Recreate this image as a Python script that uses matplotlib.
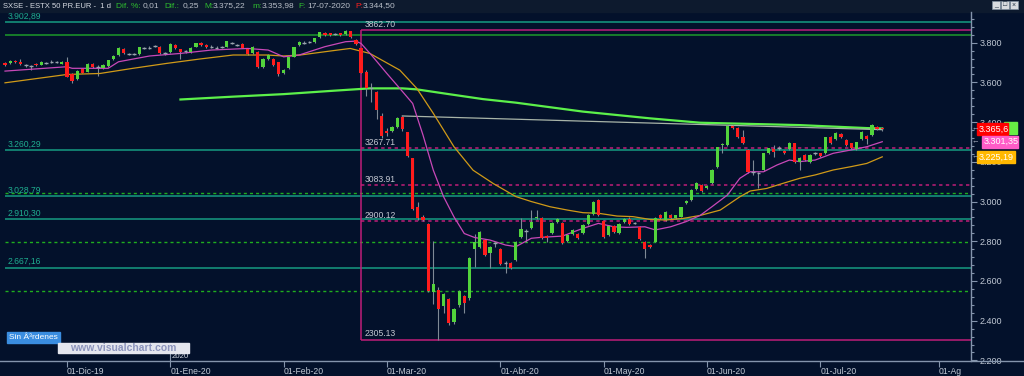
import matplotlib
matplotlib.use("Agg")
import matplotlib.pyplot as plt
from matplotlib.patches import Rectangle
from matplotlib.ticker import MultipleLocator, FuncFormatter
import numpy as np
import pandas as pd

plt.rcParams['font.family'] = ['Liberation Sans', 'DejaVu Sans']

# ---- daily candles ESTX 50, 14-Nov-2019 .. 17-Jul-2020 ----
opens = [
    3699, 3699, 3709, 3702, 3688, 3683, 3695, 3690, 3699, 3703, 3704, 3695,
    3701, 3642, 3615, 3666, 3654, 3692, 3678, 3671, 3684, 3718, 3738, 3770, 3744, 3742, 3743, 3772, 3773, 3782, 3780, 3747,
    3751, 3788, 3766, 3757, 3751, 3780, 3800, 3788, 3779, 3776, 3779, 3780, 3801, 3789, 3793, 3766, 3746, 3754, 3679, 3719, 3717, 3701,
    3649, 3671, 3730, 3786, 3801, 3804, 3803, 3827, 3847, 3847, 3842, 3847, 3843, 3857, 3813, 3771, 3654, 3570, 3553, 3430,
    3357, 3357, 3377, 3427, 3348, 3217, 2974, 2923, 2886, 2545, 2557, 2474, 2507, 2394, 2478, 2524, 2512, 2759, 2772, 2806, 2739, 2786,
    2762, 2690, 2689, 2705, 2820, 2856, 2865, 2915, 2915, 2827, 2840, 2898, 2890, 2803, 2836, 2836, 2840, 2887, 2937, 3008,
    2903, 2831, 2877, 2843, 2895, 2914, 2890, 2873, 2798, 2781, 2798, 2932, 2907, 2930, 2915, 2924, 2991, 3008, 3061, 3083,
    3066, 3095, 3172, 3285, 3285, 3380, 3369, 3327, 3260, 3152, 3145, 3159, 3243, 3263, 3265, 3254, 3263, 3293, 3201, 3234, 3201, 3242,
    3243, 3243, 3323, 3313, 3340, 3310, 3293, 3263, 3313, 3330, 3335, 3374, 3372,
]
highs = [
    3705, 3712, 3712, 3716, 3692, 3690, 3700, 3708, 3704, 3712, 3710, 3709,
    3729, 3646, 3662, 3672, 3696, 3697, 3686, 3692, 3714, 3736, 3778, 3774, 3749, 3748, 3780, 3779, 3782, 3789, 3784, 3752,
    3797, 3792, 3770, 3765, 3777, 3800, 3805, 3791, 3786, 3782, 3785, 3811, 3806, 3794, 3797, 3770, 3784, 3760, 3721, 3743, 3722, 3705,
    3666, 3730, 3780, 3808, 3807, 3810, 3826, 3856, 3852, 3850, 3848, 3851, 3862.7, 3861, 3818, 3775, 3660, 3595, 3558, 3447,
    3372, 3380, 3425, 3430, 3352, 3220, 2999, 2930, 2890, 2800, 2570, 2540, 2515, 2465, 2555, 2530, 2722, 2839, 2852, 2812, 2775, 2795,
    2768, 2700, 2694, 2802, 2915, 2862, 2955, 2957, 2920, 2832, 2895, 2918, 2895, 2836, 2862, 2842, 2886, 2936, 3004, 3012,
    2908, 2882, 2882, 2892, 2917, 2920, 2898, 2878, 2802, 2786, 2920, 2937, 2954, 2935, 2934, 2975, 3008, 3062, 3099, 3088,
    3082, 3163, 3277, 3293, 3384, 3385, 3373, 3360, 3264, 3210, 3150, 3247, 3272, 3285, 3280, 3258, 3300, 3297, 3222, 3238, 3238, 3252,
    3247, 3327, 3328, 3351, 3344, 3314, 3297, 3302, 3356, 3335, 3392, 3380, 3375.22,
]
lows = [
    3685, 3695, 3698, 3688, 3680, 3662, 3683, 3686, 3692, 3698, 3699, 3692,
    3625, 3598, 3610, 3645, 3650, 3672, 3632, 3668, 3680, 3714, 3735, 3742, 3738, 3737, 3740, 3766, 3768, 3776, 3745, 3740,
    3748, 3768, 3716, 3750, 3748, 3777, 3785, 3772, 3774, 3770, 3774, 3777, 3795, 3783, 3771, 3738, 3742, 3672, 3675, 3715, 3685, 3630,
    3640, 3668, 3727, 3782, 3795, 3798, 3800, 3824, 3834, 3834, 3837, 3834, 3840, 3826, 3788, 3645, 3530, 3503, 3418, 3318,
    3330, 3350, 3370, 3355, 3225, 2955, 2907, 2900, 2545, 2485, 2305.13, 2440, 2378, 2385, 2470, 2437, 2505, 2672, 2765, 2725, 2663, 2770,
    2680, 2638, 2660, 2700, 2815, 2798, 2860, 2910, 2810, 2798, 2836, 2894, 2788, 2798, 2832, 2810, 2836, 2882, 2932, 2928,
    2815, 2826, 2843, 2838, 2890, 2880, 2885, 2805, 2714, 2768, 2794, 2910, 2902, 2910, 2910, 2920, 2986, 3004, 3056, 3048,
    3061, 3090, 3168, 3243, 3280, 3364, 3318, 3290, 3145, 3133, 3066, 3154, 3238, 3226, 3258, 3238, 3258, 3196, 3159, 3204, 3196, 3232,
    3226, 3238, 3288, 3308, 3318, 3280, 3263, 3258, 3308, 3290, 3330, 3360, 3353.98,
]
closes = [
    3690, 3709, 3702, 3692, 3687, 3682, 3687, 3705, 3698, 3704, 3703, 3705,
    3629, 3608, 3659, 3649, 3692, 3676, 3679, 3689, 3711, 3733, 3775, 3746, 3743, 3743, 3776, 3771, 3773, 3783, 3749, 3746,
    3793, 3771, 3753, 3758, 3773, 3797, 3788, 3776, 3780, 3775, 3780, 3808, 3800, 3788, 3775, 3743, 3780, 3676, 3717, 3739, 3689, 3642,
    3662, 3726, 3776, 3805, 3800, 3805, 3822, 3853, 3837, 3837, 3843, 3837, 3857, 3830, 3793, 3649, 3570, 3572, 3461, 3330,
    3343, 3373, 3419, 3363, 3229, 2960, 2915, 2907, 2551, 2586, 2457, 2534, 2389, 2460, 2550, 2490, 2718, 2797, 2849, 2730, 2769, 2789,
    2685, 2692, 2664, 2798, 2860, 2853, 2895, 2924, 2815, 2815, 2890, 2913, 2793, 2831, 2857, 2815, 2882, 2932, 2999, 2932,
    2820, 2877, 2848, 2887, 2912, 2887, 2893, 2810, 2759, 2773, 2915, 2915, 2949, 2915, 2930, 2971, 3004, 3058, 3095, 3053,
    3078, 3159, 3273, 3290, 3380, 3369, 3323, 3296, 3150, 3150, 3142, 3243, 3268, 3251, 3268, 3243, 3296, 3201, 3218, 3209, 3234, 3243,
    3231, 3323, 3293, 3347, 3323, 3285, 3268, 3298, 3352, 3313, 3385, 3365, 3365.6,
]

# moving averages (bar index, price)
pink_x = [0, 12, 13, 20, 22, 28, 34, 40, 47, 51, 54, 57, 62, 66, 68, 69, 71, 74, 76.5, 79, 81, 83, 85, 87, 89, 91, 94,
          97, 99, 102, 104, 108, 112, 115, 118, 120.5, 124, 126, 129, 132, 134.7, 137, 140, 142.4, 144.4, 147, 149.6,
          152, 154, 157, 160.5, 164, 167, 170]
pink_y = [3657, 3679, 3671, 3671, 3704, 3733, 3746, 3763, 3771, 3763, 3729, 3738, 3780, 3805, 3808, 3796, 3738, 3645,
          3570, 3494, 3335, 3158, 3024, 2923, 2839, 2819, 2806, 2781, 2773, 2815, 2820, 2826, 2865, 2890, 2873, 2870,
          2873, 2857, 2873, 2899, 2930, 2974, 3033, 3117, 3150, 3150, 3184, 3209, 3201, 3209, 3243, 3260, 3276, 3301.35]
orange_x = [0, 12, 18.4, 24.8, 31.4, 37.8, 44.2, 50.8, 54, 57.2, 63.6, 66.9, 70.7, 76.5, 79.8, 83, 87, 90.7, 94.6, 99,
            102, 105.6, 109, 112, 115, 118.6, 121.7, 125, 128, 131.4, 134.7, 138.6, 142.4, 144.4, 147.6, 150.8, 154,
            157, 160.5, 164, 167, 170]
orange_y = [3598, 3640, 3645, 3671, 3696, 3718, 3738, 3738, 3733, 3738, 3760, 3771, 3746, 3662, 3570, 3444, 3276, 3158,
            3091, 3025, 3000, 2974, 2957, 2944, 2941, 2927, 2924, 2910, 2907, 2915, 2930, 2957, 3024, 3053, 3066, 3092,
            3117, 3134, 3159, 3176, 3192, 3225.19]
ma200_x = [34, 44, 54, 63.6, 70.7, 77, 79.8, 86, 92.6, 99, 112, 125, 134.7, 154, 167, 170]
ma200_y = [3514, 3528, 3541, 3558, 3570, 3570, 3565, 3541, 3516, 3498, 3453, 3419, 3397, 3385, 3370, 3368]
trend_x = [77, 170]
trend_y = [3431, 3362]

# horizontal levels
teal_levels = [3902.89, 3260.29, 3028.79, 2910.30, 2667.16]
green_level = 3839
green_dashed = [3041, 2795, 2549]
fib_top, fib_bottom = 3862.70, 2305.13
fib_levels = [3267.71, 3083.91, 2900.12]
fib_start = 69

month_labels = ['01-Dic-19', '01-Ene-20', '01-Feb-20', '01-Mar-20', '01-Abr-20',
                '01-May-20', '01-Jun-20', '01-Jul-20', '01-Ag']
holidays = ['2019-12-25', '2019-12-26', '2020-01-01', '2020-04-10', '2020-04-13', '2020-05-01']

header = [("SXSE - ESTX 50 PR.EUR -  1 d", 3, '#d6dae2', 5.5), ("Dif. %:", 116, '#2fbf2f', 6), ("0,01", 143, '#b8bec8', 6),
          ("Dif.:", 164, '#2fbf2f', 6), ("0,25", 183, '#b8bec8', 6), ("M:", 204, '#2fbf2f', 6), ("3.375,22", 213, '#b8bec8', 6),
          ("m:", 252, '#2fbf2f', 6), ("3.353,98", 262, '#b8bec8', 6), ("F:", 298, '#2fbf2f', 6), ("17-07-2020", 307, '#b8bec8', 6),
          ("P:", 355, '#ff2020', 6), ("3.344,50", 363, '#b8bec8', 6)]

BG = '#03112b'
AXC = '#8494ac'

days = pd.bdate_range('2019-11-14', '2020-08-03')
days = days[~days.isin(pd.to_datetime(holidays))]
pos = pd.Series(np.arange(len(days)), index=days)
month_pos = pos.groupby([days.year, days.month]).first().values[1:]

fig = plt.figure(figsize=(10.24, 3.76), dpi=100)
fig.patch.set_facecolor(BG)
ax = fig.add_axes([0, 15 / 376, 971 / 1024, 349 / 376])
ax.set_facecolor(BG)
XR = 187.2
ax.set_xlim(-0.97, XR)
ax.set_ylim(2197, 3954.6)

# level lines
ax.hlines(teal_levels, 0, XR, color='#169c82', lw=1.1, zorder=1)
ax.hlines(green_level, 0, XR, color='#1c9a2a', lw=1.1, zorder=1)
ax.hlines(green_dashed, 0, XR, color='#1fae1f', lw=1.0, linestyles=(0, (2.2, 2.2)), zorder=1)
ax.hlines([fib_top, fib_bottom], fib_start, XR, color='#c01e78', lw=1.1, zorder=1)
ax.vlines(fib_start, fib_bottom, fib_top, color='#c01e78', lw=1.1, zorder=1)
ax.hlines(fib_levels, fib_start, XR, color='#c01e78', lw=1.1, linestyles=(0, (2.2, 2.2)), zorder=1)

for v in teal_levels:
    ax.annotate(f"{v:,.2f}".replace(',', 'X').replace('.', ',').replace('X', '.'), (0.5, v),
                xytext=(0, 1), textcoords='offset points', color='#1fae90', fontsize=6.2, va='bottom')
for v in [fib_top] + fib_levels + [fib_bottom]:
    ax.annotate(f"{v:.2f}", (fib_start + 0.6, v), xytext=(0, 1), textcoords='offset points',
                color='#c4c8d2', fontsize=6.2, va='bottom')

# indicator lines
ax.plot(ma200_x, ma200_y, color='#5cf04a', lw=1.6, zorder=2)
ax.plot(trend_x, trend_y, color='#a8b4a8', lw=0.9, zorder=2)

# candles
idx = np.arange(len(closes))
o, h, l, c = (np.array(a, dtype=float) for a in (opens, highs, lows, closes))
flat = np.abs(c - o) < 4
up = (c > o) & ~flat
dn = (c <= o) & ~flat
ax.vlines(idx, l, h, color='#7f8a96', lw=0.8, zorder=3)
ax.plot(orange_x, orange_y, color='#d09a18', lw=0.9, zorder=3.5)
ax.plot(pink_x, pink_y, color='#c848b8', lw=0.9, zorder=3.5)
ax.bar(idx[up], (c - o)[up], bottom=o[up], width=0.62, color='#52d43c', linewidth=0, zorder=4)
ax.bar(idx[dn], (o - c)[dn], bottom=c[dn], width=0.62, color='#ff1c1c', linewidth=0, zorder=4)
ax.hlines(c[flat], idx[flat] - 0.36, idx[flat] + 0.36, color='#9aa4ae', lw=1.0, zorder=4)

# axes
for s in ax.spines.values():
    s.set_visible(False)
ax.yaxis.tick_right()
ax.yaxis.set_major_locator(MultipleLocator(200))
ax.yaxis.set_minor_locator(MultipleLocator(40))
ax.yaxis.set_major_formatter(FuncFormatter(lambda v, p: f"{v:,.0f}".replace(',', '.')))
ax.tick_params(axis='y', which='major', length=4, width=0.8, color=AXC, labelcolor='#c0c8d4', labelsize=6.5, pad=2)
ax.tick_params(axis='y', which='minor', length=2, width=0.8, color=AXC)
ax.set_xticks(month_pos)
ax.set_xticklabels(month_labels, ha='left')
ax.tick_params(axis='x', length=4, width=0.8, color=AXC, labelcolor='#c0c8d4', labelsize=6.2, pad=0.5)
ax.axvline(month_pos[1], 0, 15 / 349, color=AXC, lw=0.8)
ax.text(month_pos[1] + 0.3, 4 / 349, '2020', transform=ax.get_xaxis_transform(), color='#d0d6e0',
        fontsize=5.6, va='center', ha='left')


def ypix(v):
    return 376 - ax.transData.transform((0, v))[1]


# overlay in pixel coordinates
ov = fig.add_axes([0, 0, 1, 1], zorder=5)
ov.set_xlim(0, 1024)
ov.set_ylim(376, 0)
ov.axis('off')
ov.patch.set_alpha(0)
ov.add_patch(Rectangle((0, 0), 1024, 12, color='#0d1a2e'))
for txt, xp, col, fs in header:
    ov.text(xp, 6, txt, color=col, fontsize=fs, va='center', ha='left')
for k, g in enumerate(['_', '□', '×']):
    ov.add_patch(Rectangle((992 + k * 9, 1), 8, 8, facecolor='#d8dce0', edgecolor='#8090a0', lw=0.5))
    ov.text(996 + k * 9, 5, g, color='#203040', fontsize=5, ha='center', va='center')
ov.plot([971, 971], [12, 361], color=AXC, lw=1)
ov.plot([0, 1024], [361, 361], color=AXC, lw=1)

tags = [(3370, 1004, 1017, '#66ee44', ''), (closes[-1], 977, 1008, '#ff0000', '3.365,6'),
        (pink_y[-1], 982, 1018, '#ff5cc8', '3.301,35'), (orange_y[-1], 977, 1015, '#ffb800', '3.225,19')]
for v, x0, x1, col, txt in tags:
    yc = ypix(v)
    ov.add_patch(Rectangle((x0, yc - 6), x1 - x0, 12, color=col))
    if txt:
        ov.text(x0 + 2, yc, txt, color='white', fontsize=6.5, va='center', ha='left')
        ov.text(975, yc, '←', color='#a8b0c0', fontsize=5.5, va='center', ha='center')

ov.add_patch(Rectangle((7, 332), 53, 11, color='#3a8de0'))
ov.text(9, 337.5, 'Sin Â³rdenes', color='white', fontsize=6, va='center', ha='left')
ov.add_patch(Rectangle((58, 343), 131, 10, color='#e4e6ee'))
ov.text(123.5, 348, 'www.visualchart.com', color='#8c94bc', fontsize=7.5, fontweight='bold',
        va='center', ha='center')

fig.savefig('out.png', dpi=100, facecolor=BG)
